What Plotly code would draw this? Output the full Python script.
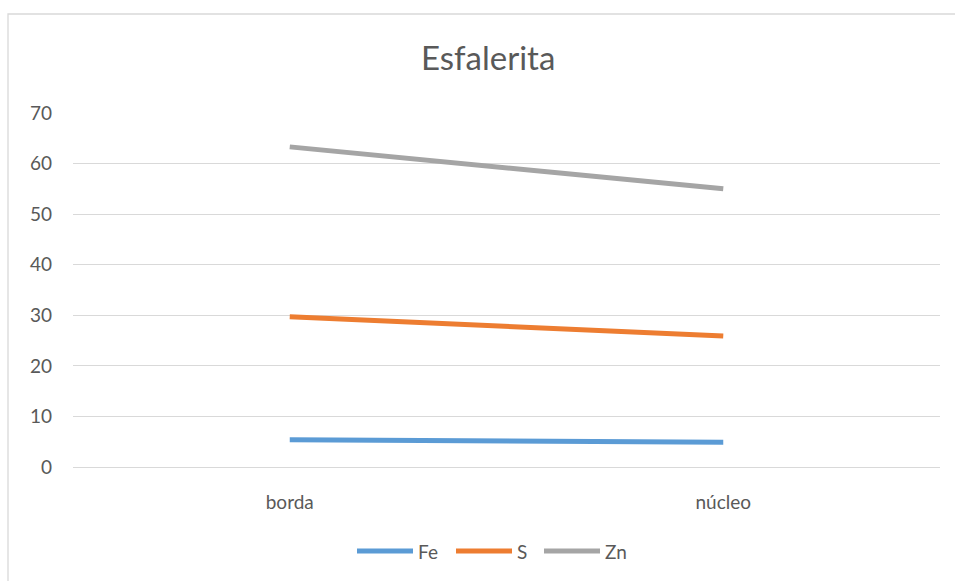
import plotly.graph_objects as go

categories = ["borda", "núcleo"]
series_names = ["Fe", "S", "Zn"]
fe_values = [5.4, 4.9]
s_values = [29.7, 25.9]
zn_values = [63.3, 55.0]
colors = ["#5B9BD5", "#ED7D31", "#A5A5A5"]
y_ticks = [0, 10, 20, 30, 40, 50, 60, 70]

W, H = 955, 581
L, R, T, B = 73, 15, 113, 114
pw = W - L - R
ph = H - T - B

def px_x(px):
    return (px - L) / pw

def px_y(py):
    return (H - B - py) / ph

FONT = "Lato, 'Open Sans', sans-serif"
TXT = "#595959"

fig = go.Figure()
for name, vals, col in zip(series_names, [fe_values, s_values, zn_values], colors):
    fig.add_trace(go.Scatter(x=categories, y=vals, mode="lines", name=name,
                             line=dict(color=col, width=5), showlegend=False))

# manual legend
legend_start = [357, 456, 544]
for name, col, x0 in zip(series_names, colors, legend_start):
    fig.add_shape(type="line", xref="paper", yref="paper",
                  x0=px_x(x0), x1=px_x(x0 + 56), y0=px_y(551), y1=px_y(551),
                  line=dict(color=col, width=5))
    fig.add_annotation(x=px_x(x0 + 59), y=px_y(551), xref="paper", yref="paper",
                       text=name, showarrow=False, xanchor="left", yanchor="middle",
                       font=dict(family=FONT, size=19, color=TXT))

# chart border
fig.add_shape(type="rect", xref="paper", yref="paper",
              x0=px_x(8), x1=px_x(990), y0=px_y(620), y1=px_y(14),
              line=dict(color="#D9D9D9", width=1.3), layer="below")

fig.add_annotation(x=px_x(488), y=px_y(57), xref="paper", yref="paper",
                   text="Esfalerita", showarrow=False, xanchor="center", yanchor="middle",
                   font=dict(family=FONT, size=33, color=TXT))

fig.update_layout(
    width=W, height=H,
    margin=dict(l=L, r=R, t=T, b=B),
    paper_bgcolor="white", plot_bgcolor="white",
    showlegend=False,
    xaxis=dict(type="category", range=[-0.5, 1.5], showgrid=False,
               showline=True, linecolor="#D9D9D9", linewidth=1.3,
               ticks="", tickfont=dict(family=FONT, size=19, color=TXT),
               ticklabelstandoff=18, zeroline=False),
    yaxis=dict(range=[0, 70], tickvals=y_ticks, showgrid=True,
               gridcolor="#D9D9D9", gridwidth=1.3, showline=False, zeroline=False,
               ticks="", tickfont=dict(family=FONT, size=19, color=TXT),
               ticklabelstandoff=20),
)

fig.write_html("out.html")
